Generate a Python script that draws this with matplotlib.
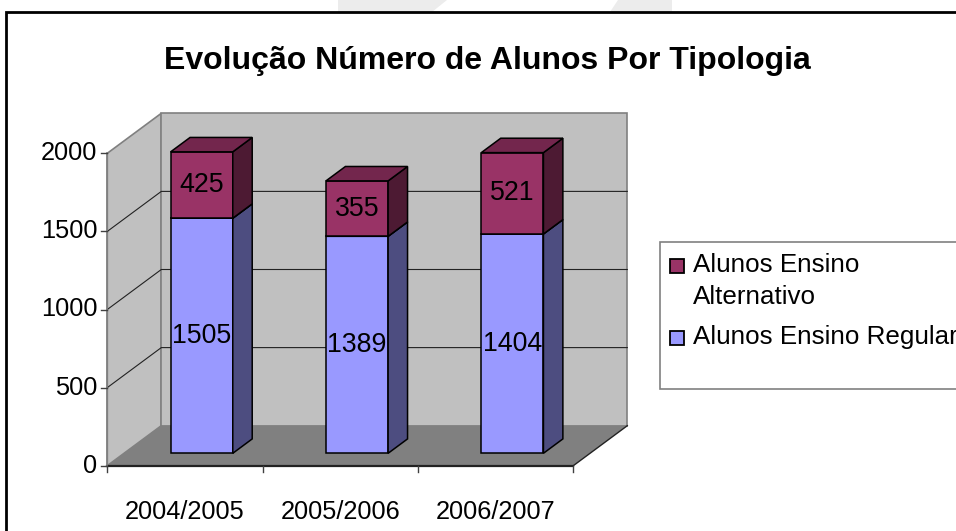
import matplotlib
matplotlib.use('Agg')
import matplotlib.pyplot as plt
from matplotlib.patches import Polygon, Rectangle

# ---------------- data ----------------
categories = ['2004/2005', '2005/2006', '2006/2007']
regular = [1505, 1389, 1404]
alternativo = [425, 355, 521]
series_names = ['Alunos Ensino\nAlternativo', 'Alunos Ensino Regular']
y_ticks = [0, 500, 1000, 1500, 2000]
title = 'Evolução Número de Alunos Por Tipologia'

# ---------------- style ----------------
plt.rcParams['font.family'] = ['Liberation Sans', 'DejaVu Sans']
W, H = 956, 531
FS_TICK = 18.3
FS_LABEL = 19.3
FS_LEG = 18.7

c_reg_front, c_reg_side, c_reg_top = '#9999FF', '#4D4D80', '#7373BF'
c_alt_front, c_alt_side, c_alt_top = '#993366', '#4D1A33', '#73264D'

fig = plt.figure(figsize=(W / 100, H / 100), dpi=100)
fig.patch.set_facecolor('white')
ax = fig.add_axes([0, 0, 1, 1])
ax.axis('off')

# faint watermark shapes at the top
for pts in ([(338, 0), (447, 0), (432, 12), (338, 12)],
            [(618, 0), (672, 0), (672, 12), (610, 12)]):
    fig.patches.append(Polygon([(x / W, 1 - y / H) for x, y in pts], closed=True,
                               transform=fig.transFigure, fc='#ECECEC', ec='none'))

# front plane geometry (pixels)
X0, X1 = 107.3, 573.3
Y0, Y2000 = 465.7, 153.3
ncat = len(categories)
ymax = y_ticks[-1]
ppc = (X1 - X0) / ncat
ppv = (Y0 - Y2000) / ymax
ax.set_xlim(-X0 / ppc, (W - X0) / ppc)
ax.set_ylim(-(H - Y0) / ppv, Y0 / ppv)

DX = 54 / ppc
DY = 40 / ppv


def P(x, v, d):
    return (x + d * DX, v + d * DY)


# walls and floor
ax.add_patch(Polygon([P(0, 0, 0), P(0, 0, 1), P(0, ymax, 1), P(0, ymax, 0)],
                     closed=True, fc='#C0C0C0', ec='#808080', lw=1.2, zorder=1))
ax.add_patch(Polygon([P(0, 0, 1), P(ncat, 0, 1), P(ncat, ymax, 1), P(0, ymax, 1)],
                     closed=True, fc='#C0C0C0', ec='#808080', lw=1.2, zorder=1))
ax.add_patch(Polygon([P(0, 0, 0), P(ncat, 0, 0), P(ncat, 0, 1), P(0, 0, 1)],
                     closed=True, fc='#808080', ec='none', zorder=1.5))

# gridlines
for v in y_ticks[1:-1]:
    a, b, c = P(0, v, 0), P(0, v, 1), P(ncat, v, 1)
    ax.plot([a[0], b[0], c[0]], [a[1], b[1], c[1]], color='#222222', lw=0.8, zorder=2)

# axis lines
ax.plot([0, ncat], [0, 0], color='#222222', lw=1.6, zorder=3)
a, b = P(ncat, 0, 0), P(ncat, 0, 1)
ax.plot([a[0], b[0]], [a[1], b[1]], color='#222222', lw=1.0, zorder=3)
ax.plot([0, 0], [0, ymax], color='#808080', lw=1.2, zorder=3)

# ticks and tick labels
tick_dx = 6 / ppc
tick_dv = 6 / ppv
for v in y_ticks:
    ax.plot([-tick_dx, 0], [v, v], color='#404040', lw=1.0, zorder=3)
    ax.text(-10 / ppc, v, str(v), ha='right', va='center', fontsize=FS_TICK, zorder=4)
for i in range(ncat + 1):
    ax.plot([i, i], [0, -tick_dv], color='#404040', lw=1.0, zorder=3)
for i, cat in enumerate(categories):
    ax.text(i + 0.5, -(519 - Y0) / ppv, cat, ha='center', va='baseline',
            fontsize=FS_TICK, zorder=4)

# bars
f0, f1 = 0.31, 0.67
bw = 0.40
series = [(regular, c_reg_front, c_reg_side, c_reg_top),
          (alternativo, c_alt_front, c_alt_side, c_alt_top)]
for i in range(ncat):
    xc = i + 0.5
    xl, xr = xc - bw / 2, xc + bw / 2
    base = 0
    for k, (vals, cf, cs, ct) in enumerate(series):
        h = vals[i]
        top = base + h
        z = 5 + k
        ax.bar(xc + f0 * DX, h, width=bw, bottom=base + f0 * DY, color=cf,
               edgecolor='black', lw=1.1, zorder=z)
        ax.add_patch(Polygon([P(xr, base, f0), P(xr, base, f1), P(xr, top, f1), P(xr, top, f0)],
                             closed=True, fc=cs, ec='black', lw=1.1, zorder=z))
        ax.add_patch(Polygon([P(xl, top, f0), P(xr, top, f0), P(xr, top, f1), P(xl, top, f1)],
                             closed=True, fc=ct, ec='black', lw=1.1, zorder=z))
        ax.text(xc + f0 * DX, base + f0 * DY + h / 2, str(h), ha='center', va='center',
                fontsize=FS_LABEL, zorder=10)
        base = top

# title
fig.text(487.5 / W, 1 - 69 / H, title, ha='center', va='baseline',
         fontsize=23, fontweight='bold')

# legend (drawn by hand: the box runs past the right edge)
fig.patches.append(Rectangle((660 / W, 1 - 389 / H), 400 / W, (389 - 242) / H,
                             transform=fig.transFigure, fc='white', ec='#808080', lw=1.2))
leg_items = [(series_names[0], c_alt_front, 258.5, 272), (series_names[1], c_reg_front, 330.5, 344)]
for name, col, sq_top, base_y in leg_items:
    fig.patches.append(Rectangle((669.5 / W, 1 - (sq_top + 14) / H), 14 / W, 14 / H,
                                 transform=fig.transFigure, fc=col, ec='black', lw=1.3))
    lines = name.split('\n')
    for j, ln in enumerate(lines):
        fig.text(693 / W, 1 - (base_y + 32 * j) / H, ln, ha='left', va='baseline',
                 fontsize=FS_LEG)

# outer frame
fig.patches.append(Rectangle((6 / W, -0.1), 1.2, 1 - 12 / H + 0.1,
                             transform=fig.transFigure, fc='none', ec='black', lw=2.0))

fig.savefig('out.png', dpi=100)
